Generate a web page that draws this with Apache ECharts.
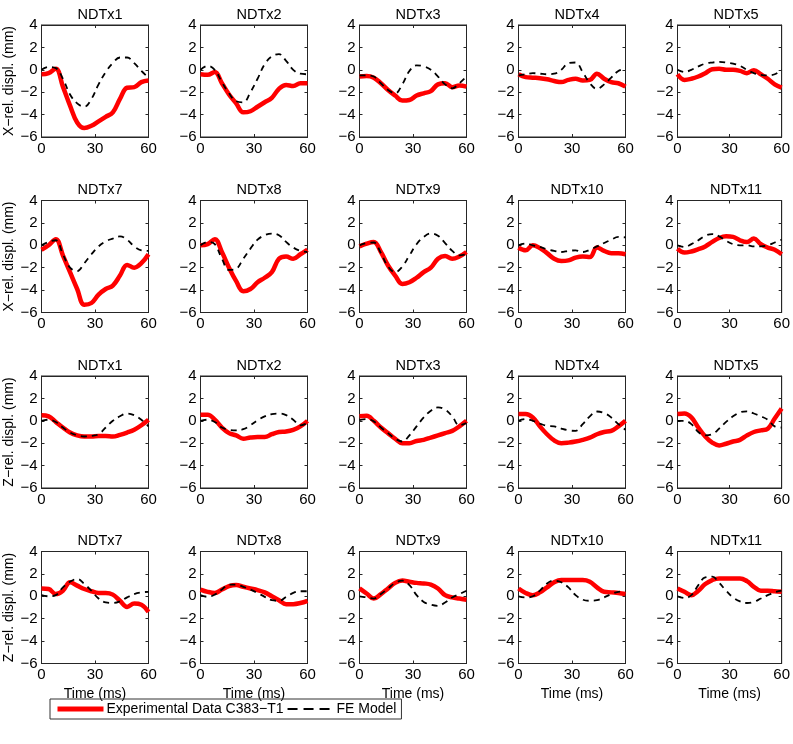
<!DOCTYPE html>
<html>
<head>
<meta charset="utf-8">
<script src="https://cdn.jsdelivr.net/npm/echarts@6/dist/echarts.min.js"></script>
<style>
  html, body { margin: 0; padding: 0; background: #fff; }
  #chart { width: 793px; height: 744px; }
</style>
</head>
<body>
<div id="chart"></div>
<script>
// sample times (ms)
var time = [0, 4, 8, 12, 16, 20, 24, 28, 32, 36, 40, 44, 48, 52, 56, 60];
var yTicks = [-6, -4, -2, 0, 2, 4];
var xTicks = [0, 30, 60];

// X displacement, experiment (red) and FE model (dashed)
var xExp1 = [-0.4, -0.3, 0.1, -1.5, -3.2, -4.7, -5.2, -5.0, -4.6, -4.2, -3.8, -2.6, -1.6, -1.55, -1.1, -0.95];
var xFe1 = [0, 0.25, 0.15, -0.8, -2.2, -3.0, -3.3, -2.6, -1.3, -0.2, 0.6, 1.1, 1.1, 0.6, -0.1, -0.7];
var xExp2 = [-0.4, -0.45, -0.2, -1.2, -2.2, -3.0, -3.8, -3.7, -3.3, -2.9, -2.5, -1.7, -1.35, -1.45, -1.2, -1.2];
var xFe2 = [0, 0.35, 0, -1.1, -2.1, -2.8, -2.9, -2.0, -0.8, 0.5, 1.2, 1.4, 0.8, 0.0, -0.35, -0.4];
var xExp3 = [-0.6, -0.55, -0.7, -1.2, -1.8, -2.3, -2.75, -2.7, -2.3, -2.1, -1.9, -1.3, -1.2, -1.55, -1.4, -1.5];
var xFe3 = [-0.5, -0.5, -0.6, -1.2, -1.8, -2.1, -1.3, -0.1, 0.4, 0.3, 0.0, -0.6, -1.3, -1.65, -1.2, -0.6];
var xExp4 = [-0.4, -0.65, -0.7, -0.75, -0.85, -1.0, -1.1, -0.9, -0.8, -0.95, -0.9, -0.35, -0.8, -1.1, -1.2, -1.5];
var xFe4 = [-0.5, -0.4, -0.3, -0.35, -0.4, -0.35, 0.0, 0.6, 0.65, -0.2, -1.2, -1.7, -1.3, -0.7, -0.1, 0.1];
var xExp5 = [-0.4, -0.9, -0.8, -0.6, -0.3, 0.05, 0.1, 0.0, 0.0, -0.1, -0.3, -0.05, -0.4, -0.8, -1.3, -1.6];
var xFe5 = [0, -0.2, 0.0, 0.3, 0.55, 0.65, 0.7, 0.65, 0.55, 0.35, 0.0, -0.3, -0.45, -0.5, -0.4, 0.0];
var xExp7 = [-0.4, 0.0, 0.55, -0.9, -2.4, -3.9, -5.3, -5.15, -4.4, -3.9, -3.6, -2.7, -1.75, -2.0, -1.6, -0.8];
var xFe7 = [0, 0.3, 0.45, -0.8, -2.0, -2.3, -1.6, -0.8, -0.1, 0.35, 0.6, 0.8, 0.5, -0.1, -0.45, -0.5];
var xExp8 = [0, 0.1, 0.55, -0.6, -2.0, -3.2, -4.1, -3.9, -3.3, -2.9, -2.4, -1.2, -1.0, -1.2, -0.8, -0.4];
var xFe8 = [0, 0.3, 0.1, -1.2, -2.2, -2.1, -1.2, -0.3, 0.5, 0.9, 1.05, 0.9, 0.3, -0.2, -0.5, -0.6];
var xExp9 = [-0.1, 0.15, 0.3, -0.6, -1.8, -2.7, -3.45, -3.3, -2.9, -2.4, -2.0, -1.2, -0.95, -1.2, -1.0, -0.6];
var xFe9 = [0, 0.2, 0.25, -0.7, -1.9, -2.4, -1.9, -0.9, 0.1, 0.75, 1.05, 0.85, 0.2, -0.5, -0.9, -0.8];
var xExp10 = [-0.2, -0.45, 0.0, -0.25, -0.7, -1.2, -1.4, -1.35, -1.1, -1.0, -1.05, -0.2, -0.5, -0.7, -0.7, -0.8];
var xFe10 = [0, 0.15, 0.0, -0.15, -0.35, -0.5, -0.6, -0.5, -0.45, -0.6, -0.4, -0.1, 0.2, 0.5, 0.75, 0.7];
var xExp11 = [-0.3, -0.65, -0.55, -0.35, -0.1, 0.3, 0.65, 0.8, 0.75, 0.45, 0.3, 0.6, 0.1, -0.2, -0.4, -0.8];
var xFe11 = [0, -0.15, 0.1, 0.45, 0.85, 1.0, 0.8, 0.4, 0.1, 0.0, 0.0, -0.1, -0.1, 0.0, 0.25, 0.5];

// Z displacement
var zExp1 = [0.5, 0.4, -0.1, -0.6, -1.05, -1.3, -1.4, -1.4, -1.35, -1.35, -1.4, -1.25, -1.05, -0.8, -0.4, 0.1];
var zFe1 = [0, 0.1, -0.1, -0.6, -1.05, -1.3, -1.4, -1.35, -1.2, -0.6, 0.0, 0.4, 0.65, 0.5, 0.1, -0.5];
var zExp2 = [0.55, 0.55, 0.1, -0.6, -1.1, -1.3, -1.6, -1.5, -1.45, -1.45, -1.2, -1.0, -0.95, -0.8, -0.5, 0.0];
var zFe2 = [0, 0.1, -0.1, -0.6, -0.8, -0.85, -0.75, -0.4, 0.05, 0.4, 0.6, 0.65, 0.5, 0.1, -0.4, -0.2];
var zExp3 = [0.4, 0.45, 0.0, -0.6, -1.1, -1.6, -2.0, -2.0, -1.8, -1.7, -1.5, -1.3, -1.1, -0.9, -0.5, 0.0];
var zFe3 = [0.05, 0.15, -0.05, -0.6, -1.1, -1.6, -1.85, -1.3, -0.5, 0.3, 0.9, 1.2, 1.0, 0.4, -0.4, -0.2];
var zExp4 = [0.6, 0.6, 0.3, -0.5, -1.2, -1.75, -2.0, -1.95, -1.85, -1.7, -1.5, -1.2, -1.0, -0.9, -0.5, 0.0];
var zFe4 = [0, 0.15, 0.0, -0.25, -0.45, -0.5, -0.7, -0.85, -0.9, -0.3, 0.4, 0.83, 0.7, 0.3, -0.3, -0.8];
var zExp5 = [0.6, 0.65, 0.3, -0.6, -1.4, -1.95, -2.2, -2.05, -1.85, -1.7, -1.3, -1.0, -0.85, -0.7, 0.2, 1.1];
var zFe5 = [0, 0.0, -0.3, -1.0, -1.3, -1.2, -0.7, -0.1, 0.4, 0.75, 0.85, 0.65, 0.4, 0.1, -0.5, -0.6];
var zExp7 = [0.7, 0.65, 0.2, 0.5, 1.25, 0.95, 0.65, 0.45, 0.3, 0.3, 0.15, -0.4, -0.95, -0.65, -0.75, -1.4];
var zFe7 = [0.1, 0.0, 0.1, 0.8, 1.3, 1.55, 1.1, 0.5, -0.2, -0.55, -0.6, -0.45, -0.1, 0.2, 0.35, 0.4];
var zExp8 = [0.6, 0.4, 0.3, 0.6, 0.9, 1.0, 0.85, 0.7, 0.55, 0.35, 0.0, -0.35, -0.7, -0.7, -0.6, -0.4];
var zFe8 = [0.1, -0.05, 0.15, 0.6, 1.05, 1.05, 0.85, 0.6, 0.3, -0.05, -0.35, -0.4, -0.05, 0.3, 0.45, 0.45];
var zExp9 = [0.7, 0.25, -0.2, 0.2, 0.7, 1.2, 1.4, 1.3, 1.2, 1.15, 1.05, 0.7, 0.1, -0.1, -0.2, -0.3];
var zFe9 = [0, -0.1, -0.2, 0.2, 0.7, 1.2, 1.4, 1.0, 0.1, -0.5, -0.75, -0.85, -0.55, -0.1, 0.2, 0.5];
var zExp10 = [0.7, 0.3, 0.1, 0.35, 0.8, 1.25, 1.45, 1.45, 1.45, 1.45, 1.3, 0.8, 0.4, 0.35, 0.3, 0.2];
var zFe10 = [0, -0.1, 0.0, 0.5, 1.15, 1.4, 1.25, 0.8, 0.1, -0.3, -0.4, -0.35, -0.1, 0.2, 0.4, 0.45];
var zExp11 = [0.7, 0.4, 0.1, 0.5, 1.1, 1.45, 1.6, 1.6, 1.6, 1.6, 1.35, 0.85, 0.5, 0.5, 0.45, 0.4];
var zFe11 = [0, -0.15, 0.1, 1.0, 1.7, 1.75, 1.2, 0.5, -0.1, -0.45, -0.6, -0.5, -0.2, 0.1, 0.35, 0.5];

var panels = [
  ["NDTx1", xExp1, xFe1], ["NDTx2", xExp2, xFe2], ["NDTx3", xExp3, xFe3], ["NDTx4", xExp4, xFe4], ["NDTx5", xExp5, xFe5],
  ["NDTx7", xExp7, xFe7], ["NDTx8", xExp8, xFe8], ["NDTx9", xExp9, xFe9], ["NDTx10", xExp10, xFe10], ["NDTx11", xExp11, xFe11],
  ["NDTx1", zExp1, zFe1], ["NDTx2", zExp2, zFe2], ["NDTx3", zExp3, zFe3], ["NDTx4", zExp4, zFe4], ["NDTx5", zExp5, zFe5],
  ["NDTx7", zExp7, zFe7], ["NDTx8", zExp8, zFe8], ["NDTx9", zExp9, zFe9], ["NDTx10", zExp10, zFe10], ["NDTx11", zExp11, zFe11]
];
var rowNames = ["X\u2212rel. displ. (mm)", "X\u2212rel. displ. (mm)", "Z\u2212rel. displ. (mm)", "Z\u2212rel. displ. (mm)"];
var expName = "Experimental Data C383\u2212T1";
var feName = "FE Model";

var FONT = "'Liberation Sans', Arial, Helvetica, sans-serif";
var AX = "#262626";
var plotW = 107, plotH = 112;

function minus(v) {
  return String(v).replace("-", "\u2212");
}

function pairs(vals) {
  return time.map(function (t, i) { return [t, vals[i]]; });
}

var grids = [], xAxes = [], yAxes = [], titles = [], series = [];

panels.forEach(function (p, k) {
  var r = Math.floor(k / 5), c = k % 5;
  var left = 41.5 + 159 * c;
  var top = 25 + 175.5 * r;
  grids.push({
    left: left, top: top, width: plotW, height: plotH,
    show: true, borderColor: AX, borderWidth: 1, containLabel: false
  });
  titles.push({
    text: p[0], left: left + plotW / 2, top: top - 23, textAlign: "center",
    textStyle: { fontFamily: FONT, fontSize: 14.5, fontWeight: "normal", color: "#000" }
  });
  var tick = { show: true, inside: true, length: 3, lineStyle: { color: AX } };
  var line = { show: true, onZero: false, lineStyle: { color: AX, width: 1 } };
  // bottom x axis
  xAxes.push({
    type: "value", gridIndex: k, min: 0, max: 60, interval: 30, position: "bottom",
    axisLine: line, axisTick: tick, splitLine: { show: false },
    axisLabel: { fontFamily: FONT, fontSize: 15, color: "#000", margin: 4,
      customValues: xTicks },
    name: r === 3 ? "Time (ms)" : "", nameLocation: "middle", nameGap: 24,
    nameTextStyle: { fontFamily: FONT, fontSize: 14, color: "#000" }
  });
  // mirrored top axis
  xAxes.push({
    type: "value", gridIndex: k, min: 0, max: 60, interval: 30, position: "top",
    axisLine: line, axisTick: tick, axisLabel: { show: false }, splitLine: { show: false }
  });
  yAxes.push({
    type: "value", gridIndex: k, min: -6, max: 4, interval: 2, position: "left",
    axisLine: line, axisTick: tick, splitLine: { show: false },
    axisLabel: { fontFamily: FONT, fontSize: 15, color: "#000", margin: 4,
      customValues: yTicks, formatter: minus },
    name: c === 0 ? rowNames[r] : "", nameLocation: "middle", nameGap: 25,
    nameTextStyle: { fontFamily: FONT, fontSize: 14, color: "#000" }
  });
  yAxes.push({
    type: "value", gridIndex: k, min: -6, max: 4, interval: 2, position: "right",
    axisLine: line, axisTick: tick, axisLabel: { show: false }, splitLine: { show: false }
  });
  series.push({
    name: expName, type: "line", xAxisIndex: 2 * k, yAxisIndex: 2 * k,
    data: pairs(p[1]), smooth: 0.4, symbol: "none", silent: true,
    lineStyle: { color: "#ff0000", width: 4.5 }, itemStyle: { color: "#ff0000" }
  });
  series.push({
    name: feName, type: "line", xAxisIndex: 2 * k, yAxisIndex: 2 * k,
    data: pairs(p[2]), smooth: 0.4, symbol: "none", silent: true,
    lineStyle: { color: "#000", width: 1.8, type: [6, 5] }, itemStyle: { color: "#000" }
  });
});

var chart = echarts.init(document.getElementById("chart"), null, { renderer: "canvas" });
chart.setOption({
  animation: false,
  backgroundColor: "#fff",
  title: titles,
  grid: grids,
  xAxis: xAxes,
  yAxis: yAxes,
  legend: {
    left: 50, top: 699, orient: "horizontal",
    borderColor: "#333", borderWidth: 1, padding: [3, 5, 3, 5],
    itemWidth: 46, itemHeight: 14, itemGap: 3,
    textStyle: { fontFamily: FONT, fontSize: 14, color: "#000", padding: [0, 0, 0, -2] },
    itemStyle: { opacity: 0 },
    lineStyle: { width: "inherit" },
    data: [
      { name: expName, lineStyle: { width: 5 } },
      { name: feName, lineStyle: { width: 2, type: [10, 6] } }
    ],
    selectedMode: false
  },
  series: series
});
</script>
</body>
</html>
